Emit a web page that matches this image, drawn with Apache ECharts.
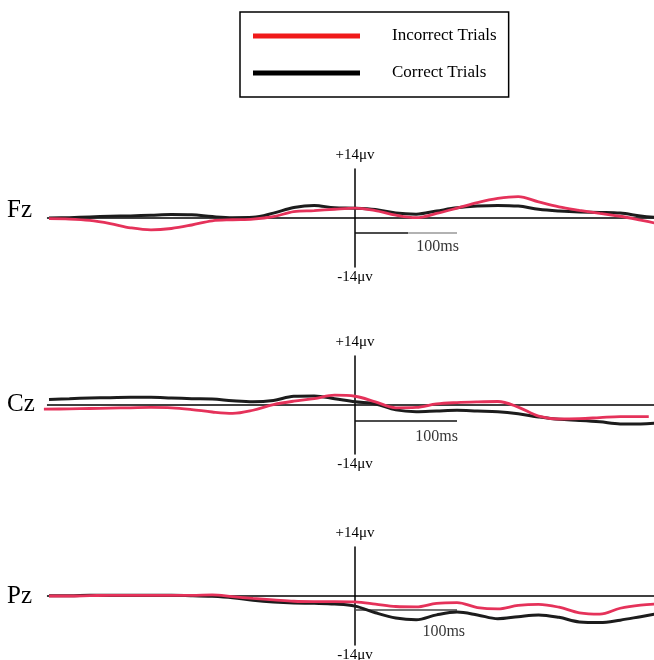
<!DOCTYPE html>
<html>
<head>
<meta charset="utf-8">
<script src="https://cdn.jsdelivr.net/npm/echarts@6/dist/echarts.min.js"></script>
<style>
html,body{margin:0;padding:0;background:#fff;}
#chart{width:654px;height:660px;}
</style>
</head>
<body>
<div id="chart"></div>
<script>
// time axis (ms relative to event), shared by all traces
const time = [-300,-280,-260,-240,-220,-200,-180,-160,-140,-120,-100,-80,-60,-40,-20,0,20,40,60,80,100,120,140,160,180,200,220,240,260,280,300];
// the Cz incorrect trace stops slightly earlier
const czIncorrectTime = [-305,-280,-260,-240,-220,-200,-180,-160,-140,-120,-100,-80,-60,-40,-20,0,20,40,60,80,100,120,140,160,180,200,220,240,260,280,288];

// amplitudes in microvolts
const fzCorrect   = [0,0.1,0.3,0.5,0.6,0.8,1.0,0.9,0.4,0.1,0.2,1.4,3.0,3.6,2.9,2.8,2.4,1.4,1.1,2.0,2.9,3.4,3.6,3.4,2.5,2.0,1.7,1.6,1.4,0.6,0];
const fzIncorrect = [-0.2,-0.3,-0.7,-1.6,-2.8,-3.4,-3.0,-2.0,-0.8,-0.5,-0.3,0.4,1.8,2.1,2.5,2.8,2.1,0.8,0.1,1.3,2.8,4.4,5.6,6.1,4.6,3.2,2.2,1.3,0.5,-0.6,-1.8];
const czCorrect   = [1.6,1.8,2.0,2.1,2.2,2.2,2.0,1.8,1.7,1.2,0.9,1.3,2.5,2.6,1.8,0.9,0.3,-1.4,-1.9,-1.7,-1.5,-1.7,-1.9,-2.5,-3.4,-4.1,-4.4,-4.8,-5.4,-5.4,-5.1];
const czIncorrect = [-1.2,-1.1,-1.0,-0.9,-0.8,-0.7,-0.8,-1.3,-2.0,-2.4,-1.5,0.1,1.1,1.8,2.8,2.5,0.9,-0.8,-0.7,0.3,0.7,0.9,1.0,-0.6,-3.2,-4.0,-3.9,-3.6,-3.3,-3.3,-3.3];
const pzCorrect   = [0.1,0.1,0.2,0.2,0.2,0.2,0.2,0.1,-0.1,-0.5,-1.2,-1.7,-2.0,-2.1,-2.3,-2.9,-4.8,-6.3,-6.8,-5.4,-4.6,-5.4,-6.5,-5.9,-5.4,-6.1,-7.4,-7.6,-6.9,-5.9,-4.9];
const pzIncorrect = [0,0,0.1,0.2,0.2,0.2,0.2,0.2,0.3,-0.2,-0.7,-1.1,-1.5,-1.6,-1.6,-1.7,-2.3,-3.0,-3.1,-2.1,-1.9,-3.3,-3.7,-2.7,-2.4,-3.2,-4.8,-5.2,-3.5,-2.6,-2.2];

const channels = ['Fz','Cz','Pz'];
const seriesNames = ['Incorrect Trials','Correct Trials'];
const ampTop = '+14\u03bcv';
const ampBottom = '-14\u03bcv';
const scaleLabel = '100ms';
const baselineX = [-302, 300];
const scaleBarX = [0, 100];

const FONT = 'Liberation Serif';
const RED = '#e5325a';
const BLACK = '#1c1c1c';

const correct = [fzCorrect, czCorrect, pzCorrect];
const incorrect = [fzIncorrect, czIncorrect, pzIncorrect];
const incorrectTime = [time, czIncorrectTime, time];
const gridTops = [169, 356, 547];
const barY = [-4.3, -4.6, -4.0];
const textPos = [[81, -8.3], [80, -9.1], [87, -10.3]];
const titleTops = [198, 392, 584];

const zip = (xs, ys) => xs.map((x, i) => [x, ys[i]]);

const grids = [], xAxes = [], yAxes = [], series = [], titles = [];
channels.forEach((ch, g) => {
  const main = 2 * g, aux = 2 * g + 1;
  // main grid + an overlapping twin grid that carries the lower amplitude label
  [main, aux].forEach(k => {
    grids.push({left: 38.8, width: 622.2, top: gridTops[g], height: 98, outerBoundsMode: 'none', containLabel: false});
    xAxes.push({gridIndex: k, type: 'value', min: -310, max: 300, show: false});
  });
  const yBase = {
    type: 'value', min: -14, max: 14,
    axisTick: {show: false}, axisLabel: {show: false}, splitLine: {show: false},
    nameTextStyle: {fontFamily: FONT, fontSize: 15, color: '#000'}
  };
  yAxes.push(Object.assign({}, yBase, {
    gridIndex: main,
    axisLine: {show: true, onZero: true, lineStyle: {color: '#000', width: 1.5}},
    name: ampTop, nameLocation: 'end', nameGap: 6
  }));
  yAxes.push(Object.assign({}, yBase, {
    gridIndex: aux,
    axisLine: {show: true, onZero: true, lineStyle: {color: 'rgba(0,0,0,0)', width: 0}},
    name: ampBottom, nameLocation: 'start', nameGap: 3
  }));
  titles.push({text: ch, left: 7, top: titleTops[g], padding: 0,
    textStyle: {fontFamily: FONT, fontSize: 25, fontWeight: 'normal', color: '#000'}});

  const ax = {xAxisIndex: main, yAxisIndex: main};
  // baseline
  series.push(Object.assign({type: 'line', silent: true, symbol: 'none',
    data: baselineX.map(x => [x, 0]), lineStyle: {color: '#000', width: 1.3}, z: 1}, ax));
  // scale bar
  if (g === 0) {
    series.push(Object.assign({type: 'line', silent: true, symbol: 'none',
      data: [[scaleBarX[0], barY[g]], [52, barY[g]]], lineStyle: {color: '#111', width: 1.5}, z: 1}, ax));
    series.push(Object.assign({type: 'line', silent: true, symbol: 'none',
      data: [[52, barY[g]], [scaleBarX[1], barY[g]]], lineStyle: {color: '#999', width: 1.5}, z: 1}, ax));
  } else {
    series.push(Object.assign({type: 'line', silent: true, symbol: 'none',
      data: scaleBarX.map(x => [x, barY[g]]), lineStyle: {color: g === 2 ? '#444' : '#111', width: 1.5}, z: 1}, ax));
  }
  series.push(Object.assign({type: 'scatter', silent: true, symbolSize: 0,
    data: [textPos[g]],
    label: {show: true, position: 'inside', formatter: scaleLabel, fontFamily: FONT, fontSize: 16, color: '#000'}}, ax));
  // traces
  series.push(Object.assign({name: seriesNames[1], type: 'line', symbol: 'none',
    smooth: 0.35, data: zip(time, correct[g]), color: BLACK,
    lineStyle: {color: BLACK, width: 3}, z: 3}, ax));
  series.push(Object.assign({name: seriesNames[0], type: 'line', symbol: 'none',
    smooth: 0.35, data: zip(incorrectTime[g], incorrect[g]), color: RED,
    lineStyle: {color: RED, width: 2.8}, z: 4}, ax));
});

const chart = echarts.init(document.getElementById('chart'), null, {renderer: 'canvas'});
chart.setOption({
  animation: false,
  backgroundColor: '#fff',
  title: titles,
  legend: {
    left: 240, top: 12, orient: 'vertical',
    padding: [14, 12, 14, 13],
    borderColor: '#000', borderWidth: 1.5,
    icon: 'rect', itemWidth: 107, itemHeight: 5, itemGap: 17,
    textStyle: {fontFamily: FONT, fontSize: 17, color: '#000', lineHeight: 20, padding: [0, 0, 0, 27]},
    data: [
      {name: seriesNames[0], itemStyle: {color: '#f01a1a'}},
      {name: seriesNames[1], itemStyle: {color: '#000'}}
    ]
  },
  grid: grids,
  xAxis: xAxes,
  yAxis: yAxes,
  series: series
});
</script>
</body>
</html>
